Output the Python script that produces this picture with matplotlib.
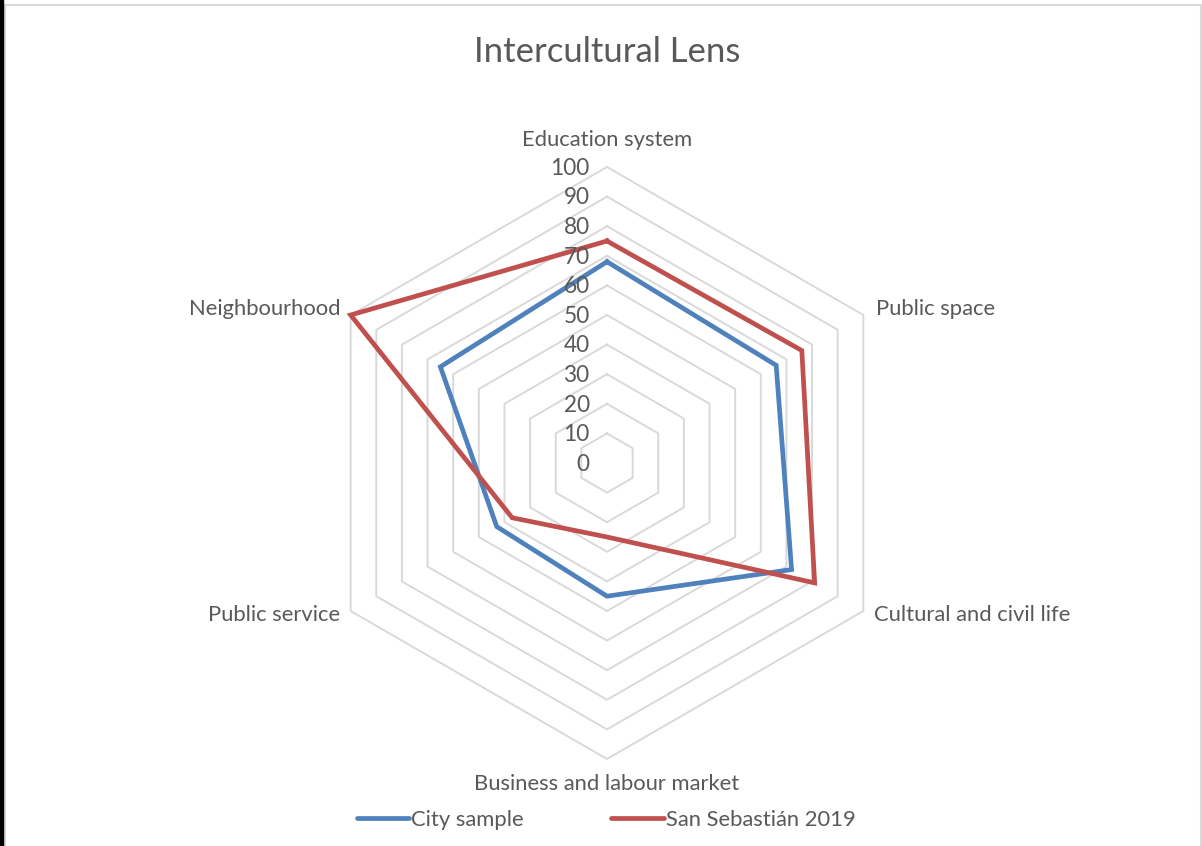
from matplotlib import pyplot as plt
from matplotlib.patches import Rectangle
import numpy as np

categories = ["Education system", "Public space", "Cultural and civil life",
              "Business and labour market", "Public service", "Neighbourhood"]
city_sample = [68, 66, 72, 45, 43, 65]
san_sebastian = [75, 76, 81, 25, 37, 100]
ring_values = [0, 10, 20, 30, 40, 50, 60, 70, 80, 90, 100]

text_color = "#595959"
grid_color = "#D9D9D9"
blue = "#4F81BD"
red = "#C0504D"
font = "Lato"
fs = 15.8

W, H = 1202, 846
fig = plt.figure(figsize=(W / 100, H / 100), dpi=100)

# polar axes centred on the chart, radius 100 -> 296 px
cx, cy, rad = 607, 463, 296
ax = fig.add_axes([(cx - rad) / W, (H - cy - rad) / H, 2 * rad / W, 2 * rad / H],
                  projection="polar")
ax.set_theta_offset(np.pi / 2)
ax.set_theta_direction(-1)
ax.set_ylim(0, 100)
ax.grid(False)
ax.set_xticks([])
ax.set_yticks([])
ax.spines["polar"].set_visible(False)
ax.patch.set_visible(False)

angles = np.linspace(0, 2 * np.pi, len(categories), endpoint=False)
closed = np.append(angles, angles[0])

# hexagonal rings
for r in ring_values[1:]:
    ax.plot(closed, [r] * len(closed), color=grid_color, lw=1.4, zorder=1, clip_on=False)

# the two series
for values, color in [(city_sample, blue), (san_sebastian, red)]:
    ax.plot(closed, values + values[:1], color=color, lw=3.4, zorder=3,
            solid_joinstyle="miter", clip_on=False)

# value labels along the top axis
for r in ring_values:
    ax.annotate(str(r), xy=(0, r), xytext=(-12.5, -1), textcoords="offset points",
                ha="right", va="center", fontsize=fs + 0.5, color=text_color, family=font)

# category labels
offsets = [((0, 19.5), "center", "center"),
           ((9, 4.5), "left", "center"),
           ((8, -3), "left", "center"),
           ((0, -18), "center", "center"),
           ((-7.5, -3), "right", "center"),
           ((-7.5, 4.5), "right", "center")]
for ang, name, (off, ha, va) in zip(angles, categories, offsets):
    ax.annotate(name, xy=(ang, 100), xytext=off, textcoords="offset points",
                ha=ha, va=va, fontsize=fs, color=text_color, family=font,
                annotation_clip=False)

fig.text(cx / W, 1 - 52 / H, "Intercultural Lens", ha="center", va="center",
         fontsize=25, color=text_color, family=font)

handles = [plt.Line2D([], [], color=blue, lw=3.4, solid_capstyle="round"),
           plt.Line2D([], [], color=red, lw=3.4, solid_capstyle="round")]
leg = fig.legend(handles, ["City sample", "San Sebastián 2019"], loc="center",
                 bbox_to_anchor=(606 / W, 1 - 820 / H), ncol=2, frameon=False,
                 handlelength=2.4, handletextpad=0.08, columnspacing=4.0,
                 prop={"family": font, "size": fs})
for t in leg.get_texts():
    t.set_color(text_color)

# chart border and the dark strip on the left edge
fig.patches.append(Rectangle((5 / W, -0.01), (W - 6) / W, 1 - 5 / H + 0.01,
                             transform=fig.transFigure, fill=False,
                             edgecolor=grid_color, lw=1.5))
fig.patches.append(Rectangle((0, 0), 2.5 / W, 1, transform=fig.transFigure,
                             color="black"))

fig.savefig("out.png", dpi=100)
